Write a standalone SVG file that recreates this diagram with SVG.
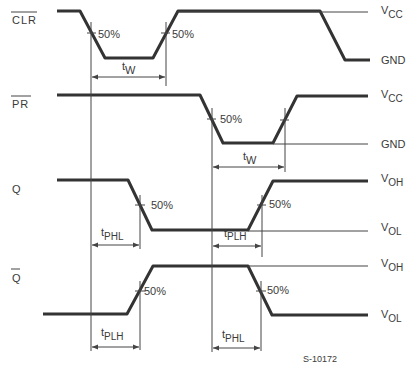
<svg xmlns="http://www.w3.org/2000/svg" width="415" height="369" viewBox="0 0 415 369">
<defs>
<style>
.w{fill:none;stroke:#333;stroke-width:3;stroke-linejoin:round}
.t{fill:none;stroke:#444;stroke-width:1}
.d{fill:none;stroke:#444;stroke-width:1;marker-start:url(#a);marker-end:url(#a)}
text{font-family:"Liberation Sans",Arial,sans-serif;font-size:11px;fill:#3a3a3a}
.s{font-size:10px}
</style>
<marker id="a" viewBox="0 0 10 10" refX="10" refY="5" markerWidth="8" markerHeight="6" orient="auto-start-reverse" markerUnits="userSpaceOnUse">
<path d="M0,1 L10,5 L0,9 Z" fill="#444"/>
</marker>
</defs>
<rect width="415" height="369" fill="#fff"/>
<g id="clr">
<text x="12" y="24" letter-spacing="1">CLR</text>
<line class="t" x1="11" y1="12" x2="37" y2="12"/>
<polyline class="w" points="57,11 80,11 105,58 153,58 178,11 320,11 345,60 370,60"/>
<line class="t" x1="178" y1="12" x2="368" y2="12"/>
<line class="t" x1="87" y1="33" x2="96" y2="33"/>
<line class="t" x1="161" y1="33" x2="170" y2="33"/>
<text x="98" y="38">50%</text>
<text x="172" y="38">50%</text>
<text x="381" y="14">V<tspan class="s" dy="4">CC</tspan></text>
<text x="381" y="64">GND</text>
</g>
<g id="pr">
<text x="12" y="108" letter-spacing="1">PR</text>
<line class="t" x1="11" y1="96" x2="31" y2="96"/>
<polyline class="w" points="57,95 200,95 223,143 273,143 297,96 368,96"/>
<line class="t" x1="273" y1="144" x2="368" y2="144"/>
<line class="t" x1="207" y1="119" x2="216" y2="119"/>
<line class="t" x1="280" y1="120" x2="289" y2="120"/>
<text x="220" y="123">50%</text>
<text x="381" y="98">V<tspan class="s" dy="4">CC</tspan></text>
<text x="381" y="148">GND</text>
</g>
<g id="q">
<text x="12" y="193">Q</text>
<polyline class="w" points="57,180 128,180 152,230 248,230 273,181 368,181"/>
<line class="t" x1="248" y1="231" x2="368" y2="231"/>
<line class="t" x1="135" y1="205" x2="145" y2="205"/>
<line class="t" x1="257" y1="205" x2="266" y2="205"/>
<text x="151" y="209">50%</text>
<text x="269" y="208">50%</text>
<text x="381" y="182">V<tspan class="s" dy="4">OH</tspan></text>
<text x="381" y="231">V<tspan class="s" dy="4">OL</tspan></text>
</g>
<g id="qbar">
<text x="12" y="282">Q</text>
<line class="t" x1="11" y1="269" x2="20" y2="269"/>
<polyline class="w" points="43,314 127,314 153,266 248,266 272,315 368,315"/>
<line class="t" x1="248" y1="266" x2="368" y2="266"/>
<line class="t" x1="135" y1="291" x2="145" y2="291"/>
<line class="t" x1="256" y1="291" x2="266" y2="291"/>
<text x="144" y="295">50%</text>
<text x="267" y="294">50%</text>
<text x="381" y="267">V<tspan class="s" dy="4">OH</tspan></text>
<text x="381" y="318">V<tspan class="s" dy="4">OL</tspan></text>
</g>
<g id="connectors">
<line class="t" x1="91" y1="22" x2="91" y2="351"/>
<line class="t" x1="166" y1="22" x2="166" y2="86"/>
<line class="t" x1="212" y1="108" x2="212" y2="352"/>
<line class="t" x1="285" y1="108" x2="285" y2="172"/>
<line class="t" x1="140" y1="195" x2="140" y2="249"/>
<line class="t" x1="262" y1="195" x2="262" y2="257"/>
<line class="t" x1="140" y1="281" x2="140" y2="350"/>
<line class="t" x1="261" y1="281" x2="261" y2="351"/>
<line class="d" x1="92" y1="77" x2="165" y2="77"/>
<line class="d" x1="213" y1="167" x2="284" y2="167"/>
<line class="d" x1="92" y1="245" x2="139" y2="245"/>
<line class="d" x1="213" y1="246" x2="261" y2="246"/>
<line class="d" x1="92" y1="347" x2="139" y2="347"/>
<line class="d" x1="213" y1="348" x2="260" y2="348"/>
</g>
<g id="labels">
<text x="122" y="70">t<tspan dy="4">W</tspan></text>
<text x="243" y="160">t<tspan dy="4">W</tspan></text>
<text x="101" y="236">t<tspan class="s" dy="4">PHL</tspan></text>
<text x="224" y="237">t<tspan class="s" dy="3">PLH</tspan></text>
<text x="101" y="336">t<tspan class="s" dy="4">PLH</tspan></text>
<text x="222" y="338">t<tspan class="s" dy="4">PHL</tspan></text>
<text x="303" y="362" style="font-size:9px">S-10172</text>
</g>
</svg>
